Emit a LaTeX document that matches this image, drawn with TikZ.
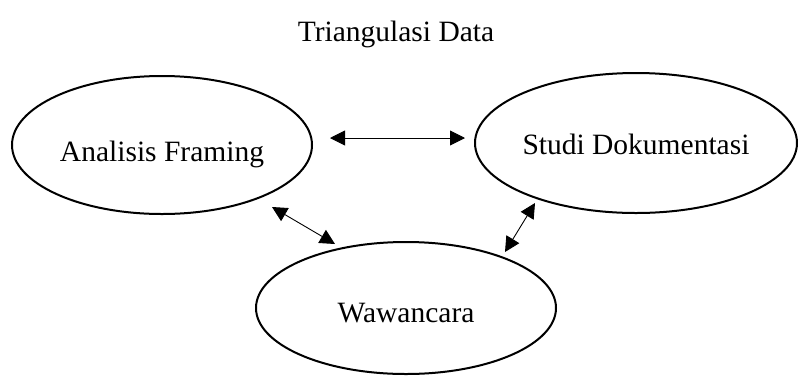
\documentclass[tikz,border=0pt]{standalone}
\usepackage{fontspec}
\setmainfont{Liberation Serif}
\usetikzlibrary{shapes.geometric,arrows.meta,calc}
\begin{document}
\begin{tikzpicture}[x=1pt,y=-1pt,
  bigtext/.style={font=\fontsize{29.5}{34}\selectfont},
  oval/.style={ellipse,draw,line width=2pt,inner sep=0pt,bigtext,text depth=0pt},
  arr/.style={line width=0.9pt,{Triangle[length=15pt,width=15pt]}-{Triangle[length=15pt,width=15pt]}}]
\useasboundingbox[fill=white] (0,0) rectangle (798,376);
\node[bigtext,anchor=base] (T) at (396,41) {Triangulasi Data};
\node[oval,text height=32pt,minimum width=300pt,minimum height=138pt] (A) at (162,145) {Analisis Framing};
\node[oval,text height=22.6pt,minimum width=322pt,minimum height=140pt] (S) at (636,143) {Studi Dokumentasi};
\node[oval,text height=29.4pt,minimum width=300pt,minimum height=132pt] (W) at (406,308) {Wawancara};
\draw[arr] ($(A.center)+(168,-7)$) -- ($(S.center)+(-171,-5)$);
\draw[arr] ($(A.center)+(110,62)$) -- ($(W.center)+(-71,-64)$);
\draw[arr] ($(S.center)+(-101,60)$) -- ($(W.center)+(99,-56)$);
\end{tikzpicture}
\end{document}
